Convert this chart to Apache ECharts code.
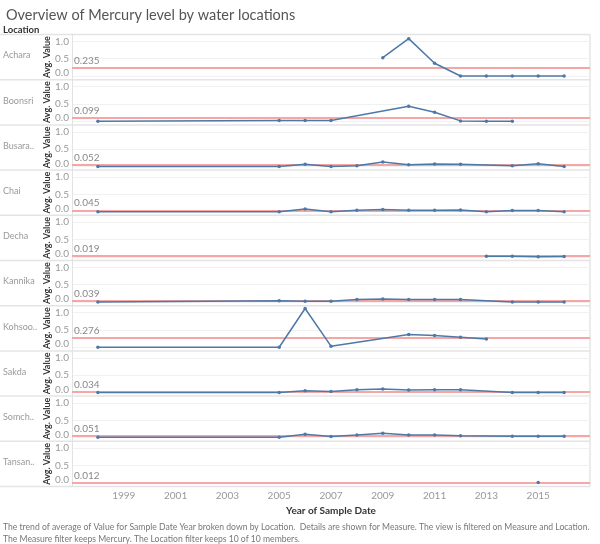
<!DOCTYPE html>
<html><head><meta charset="utf-8">
<script src="https://cdn.jsdelivr.net/npm/echarts@6/dist/echarts.min.js"></script>
<style>html,body{margin:0;padding:0;background:#fff}#c{width:600px;height:544px}</style>
</head><body><div id="c"></div>
<script>
// ---- data ----
const locations = ['Achara', 'Boonsri', 'Busara..', 'Chai', 'Decha', 'Kannika', 'Kohsoo..', 'Sakda', 'Somch..', 'Tansan..'];
const refAverages = [0.235, 0.099, 0.052, 0.045, 0.019, 0.039, 0.276, 0.034, 0.051, 0.012];
const achara  = [[2009, 0.53], [2010, 1.08], [2011, 0.37], [2012, 0.0], [2013, 0.0], [2014, 0.0], [2015, 0.0], [2016, 0.0]];
const boonsri = [[1998, 0.0], [2005, 0.02], [2006, 0.02], [2007, 0.02], [2010, 0.43], [2011, 0.26], [2012, 0.01], [2013, 0.0], [2014, 0.0]];
const busara  = [[1998, 0.0], [2005, 0.0], [2006, 0.06], [2007, 0.0], [2008, 0.02], [2009, 0.13], [2010, 0.05], [2011, 0.07], [2012, 0.06], [2014, 0.02], [2015, 0.08], [2016, 0.0]];
const chai    = [[1998, 0.0], [2005, 0.0], [2006, 0.075], [2007, 0.0], [2008, 0.04], [2009, 0.065], [2010, 0.04], [2011, 0.04], [2012, 0.045], [2013, 0.0], [2014, 0.03], [2015, 0.03], [2016, 0.0]];
const decha   = [[2013, 0.02], [2014, 0.02], [2015, 0.0], [2016, 0.01]];
const kannika = [[1998, 0.0], [2005, 0.04], [2006, 0.02], [2007, 0.02], [2008, 0.07], [2009, 0.09], [2010, 0.07], [2011, 0.07], [2012, 0.07], [2014, 0.0], [2015, 0.0], [2016, 0.0]];
const kohsoo  = [[1998, 0.0], [2005, 0.0], [2006, 1.12], [2007, 0.03], [2010, 0.37], [2011, 0.34], [2012, 0.29], [2013, 0.24]];
const sakda   = [[1998, 0.0], [2005, 0.0], [2006, 0.05], [2007, 0.03], [2008, 0.08], [2009, 0.1], [2010, 0.07], [2011, 0.08], [2012, 0.08], [2014, 0.0], [2015, 0.0], [2016, 0.0]];
const somch   = [[1998, 0.01], [2005, 0.01], [2006, 0.095], [2007, 0.03], [2008, 0.075], [2009, 0.13], [2010, 0.075], [2011, 0.075], [2012, 0.055], [2014, 0.04], [2015, 0.04], [2016, 0.04]];
const tansan  = [[2015, 0.01]];
const seriesValues = [achara, boonsri, busara, chai, decha, kannika, kohsoo, sakda, somch, tansan];
const xTickLabels = [1999, 2001, 2003, 2005, 2007, 2009, 2011, 2013, 2015];
const yTickLabels = [0, 0.5, 1];

// ---- layout ----
const FONT = 'Lato, "Open Sans", sans-serif';
const TOP = 34.5, PITCH = 45.2, H = 45, LEFT = 72, RIGHT = 10, W = 600;
const n = locations.length;
const BLUE = '#4e79a7', REF = '#f7a6a6';

const grids = [], xAxes = [], yAxes = [], series = [], graphics = [];
for (let i = 0; i < n; i++) {
  const last = i === n - 1;
  grids.push({ left: LEFT, right: RIGHT, top: TOP + i * PITCH, height: H, show: false });
  xAxes.push({
    gridIndex: i, type: 'value', min: 1997, max: 2017,
    axisLine: { show: false }, axisTick: { show: false }, splitLine: { show: false },
    axisLabel: { show: last, customValues: xTickLabels, formatter: v => String(v),
                 color: '#999', fontSize: 10, margin: 4, fontFamily: FONT },
    name: last ? 'Year of Sample Date' : '', nameLocation: 'middle', nameGap: 19, nameMoveOverlap: false,
    nameTextStyle: { fontWeight: 'bold', color: '#333', fontSize: 10, fontFamily: FONT }
  });
  yAxes.push({
    gridIndex: i, type: 'value', min: -0.1, max: 1.2,
    axisLine: { show: true, lineStyle: { color: '#e2e2e2', width: 1 } },
    axisTick: { show: false, customValues: yTickLabels },
    axisLabel: {
      customValues: yTickLabels, color: '#999', fontSize: 10, margin: 3, fontFamily: FONT,
      formatter: v => v === 0 ? '{z|0.0}' : v.toFixed(1),
      rich: { z: { color: '#999', fontSize: 10, fontFamily: FONT, padding: [0, 0, 6, 0] } }
    },
    splitLine: { show: true, lineStyle: { color: '#f1f1f1', width: 1 } },
    name: 'Avg. Value', nameLocation: 'middle', nameRotate: 90, nameGap: 20, nameMoveOverlap: false,
    nameTextStyle: { fontWeight: 'bold', fontSize: 9, color: '#333', fontFamily: FONT }
  });
  series.push({
    type: 'line', xAxisIndex: i, yAxisIndex: i, data: seriesValues[i],
    symbol: 'circle', symbolSize: 3.5, showAllSymbol: true,
    lineStyle: { color: BLUE, width: 1.5 }, itemStyle: { color: BLUE },
    animation: false, z: 3,
    markLine: {
      silent: true, symbol: 'none', animation: false, z: 2,
      lineStyle: { color: REF, width: 2, type: 'solid' },
      label: { show: true, position: 'insideStartTop', formatter: () => refAverages[i].toFixed(3),
               color: '#888', fontSize: 10, fontFamily: FONT, distance: [2, 2] },
      data: [{ yAxis: refAverages[i] }]
    }
  });
  graphics.push({
    type: 'text', left: 3, top: TOP + i * PITCH + H / 2 - 6,
    style: { text: locations[i], fill: '#999', fontSize: 9, fontFamily: FONT }
  });
}
for (let i = 0; i <= n; i++) {
  const y = TOP + i * PITCH;
  graphics.push({ type: 'line', shape: { x1: 0, y1: y, x2: W - RIGHT, y2: y }, style: { stroke: '#e4e4e4', lineWidth: 1.5 }, silent: true });
}
graphics.push({ type: 'line', shape: { x1: W - RIGHT, y1: TOP, x2: W - RIGHT, y2: TOP + (n - 1) * PITCH + H }, style: { stroke: '#e4e4e4', lineWidth: 1.5 }, silent: true });
graphics.push({ type: 'text', left: 3, top: 25, style: { text: 'Location', fill: '#333', fontSize: 9.5, fontWeight: 'bold', fontFamily: FONT } });
graphics.push({ type: 'text', left: 3, top: 521, style: {
  text: 'The trend of average of Value for Sample Date Year broken down by Location.  Details are shown for Measure. The view is filtered on Measure and Location.\nThe Measure filter keeps Mercury. The Location filter keeps 10 of 10 members.',
  fill: '#777', fontSize: 8.6, lineHeight: 12, fontFamily: FONT } });

const chart = echarts.init(document.getElementById('c'), null, { renderer: 'canvas' });
chart.setOption({
  animation: false,
  backgroundColor: '#fff',
  title: { text: 'Overview of Mercury level by water locations', left: 1, top: 3,
           textStyle: { fontSize: 14.5, fontWeight: 'normal', color: '#555', fontFamily: FONT } },
  grid: grids, xAxis: xAxes, yAxis: yAxes, series: series, graphic: graphics
});
</script></body></html>
